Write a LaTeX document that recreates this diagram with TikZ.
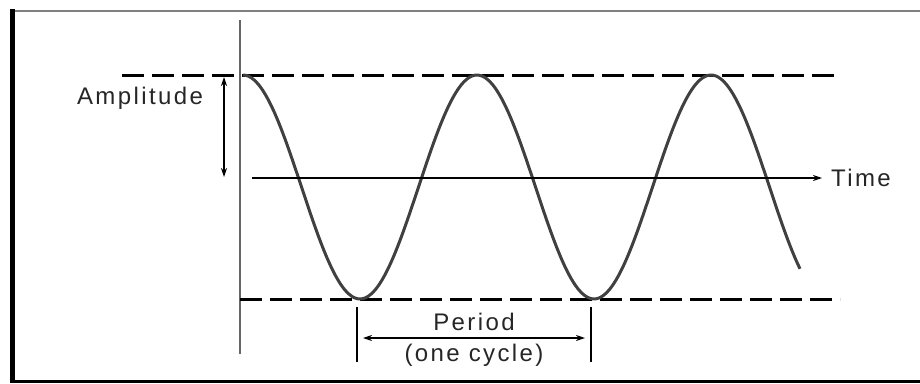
\documentclass[tikz,border=0pt]{standalone}
\usepackage{fontspec}
\setmainfont{Liberation Sans}[LetterSpace=10]
\usetikzlibrary{arrows.meta}
\begin{document}
\begin{tikzpicture}[x=1pt,y=-1pt,
  lbl/.style={inner sep=0pt,font=\fontsize{24}{27}\selectfont,text=black!85},
  dashline/.style={line width=3pt,dash pattern=on 22pt off 8pt,black},
  thinarrow/.style={line width=1.3pt,-{Stealth[length=9pt,width=6pt]}},
  wave/.style={line width=3pt,black!75}]
\useasboundingbox (0,0) rectangle (920,383);
% frame
\draw[line width=2pt,black!50] (12,11) -- (920,11);
\draw[line width=5pt,black] (12,9) -- (12,383);
\draw[line width=3pt,black] (10,381.5) -- (920,381.5);
% coordinates
\coordinate (axtop) at (240,20);
\coordinate (axbot) at (240,354);
\coordinate (ud1) at (122,75);
\coordinate (ud2) at (840,75);
\coordinate (ld1) at (240,299);
\coordinate (ld2) at (840,299);
\coordinate (t1) at (252,178);
\coordinate (t2) at (822,178);
\coordinate (a1) at (224,77);
\coordinate (a2) at (224,177);
\coordinate (p1t) at (357,307);
\coordinate (p1b) at (357,362);
\coordinate (p2t) at (591,307);
\coordinate (p2b) at (591,362);
\coordinate (pa1) at (363,338);
\coordinate (pa2) at (585,338);
% vertical axis
\draw[line width=2pt,black!60] (axtop) -- (axbot);
% dashed lines
\draw[dashline] (ud1) -- (ud2);
\draw[dashline] (ld1) -- (ld2);
% wave
\draw[wave] plot[domain=243:800,samples=200,smooth] (\x,{187-112*cos((\x-243)/234*360)});
% time axis
\draw[thinarrow] (t1) -- (t2);
\node[lbl,anchor=west] (time) at (831,178) {Time};
% amplitude
\draw[line width=1.3pt,{Stealth[length=9pt,width=6pt]}-{Stealth[length=9pt,width=6pt]}] (a1) -- (a2);
\node[lbl] (amp) at (140,98) {Amplitude};
% period
\draw[line width=1.3pt] (p1t) -- (p1b);
\draw[line width=1.3pt] (p2t) -- (p2b);
\draw[line width=1.3pt,{Stealth[length=9pt,width=6pt]}-{Stealth[length=9pt,width=6pt]}] (pa1) -- (pa2);
\node[lbl] (per) at (474,322) {Period};
\node[lbl] (cyc) at (474,355) {(one cycle)};
\end{tikzpicture}
\end{document}
